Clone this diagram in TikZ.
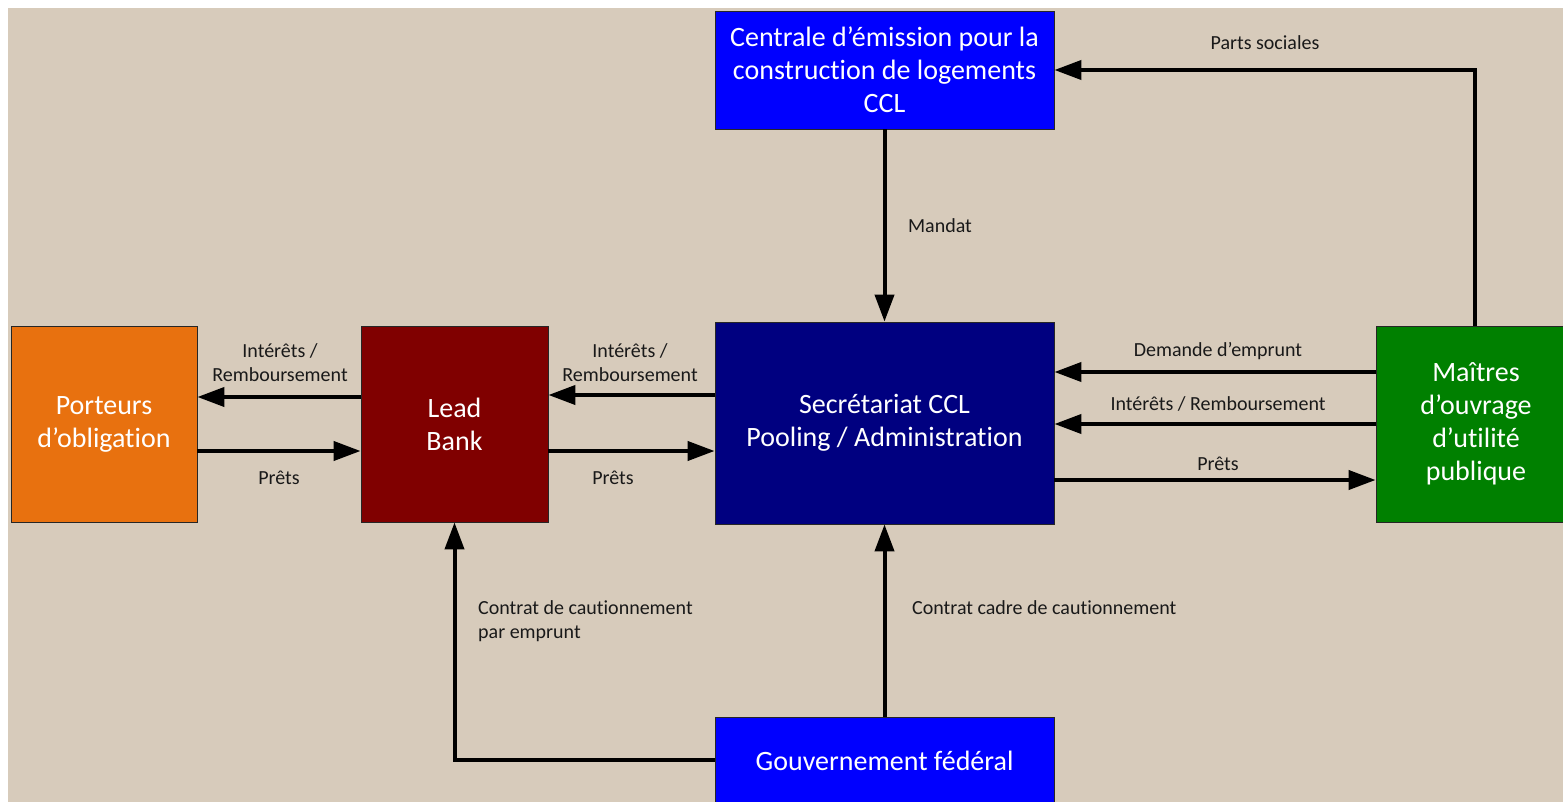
\documentclass[tikz,border=0pt]{standalone}
\usepackage{fontspec}
\setmainfont{Carlito}[Ligatures=NoCommon]
\usetikzlibrary{arrows.meta}
\definecolor{bg}{HTML}{D7CBBB}
\definecolor{orangebox}{HTML}{E8710F}
\definecolor{redbox}{HTML}{800000}
\definecolor{navybox}{HTML}{000080}
\definecolor{greenbox}{HTML}{008000}
\definecolor{bluebox}{HTML}{0000FF}
\tikzset{
  box/.style={draw=black!85, line width=0.8pt, text=white, align=center,
    font=\fontsize{28}{33}\selectfont, inner sep=0pt},
  arr/.style={line width=4pt, -{Triangle[length=27pt,width=19pt]}},
  lbl/.style={font=\fontsize{20}{24}\selectfont, text=black!90, inner sep=0pt, align=center},
}
\begin{document}
\begin{tikzpicture}[x=1pt,y=-1pt]
\useasboundingbox (0,0) rectangle (1563,802);
\fill[bg] (8,8) rectangle (1563,802);

\node[box, fill=bluebox, minimum width=339pt, minimum height=118pt] (centrale) at (884.5,70)
  {Centrale d’émission pour la\\construction de logements\\CCL};
\node[box, fill=orangebox, minimum width=186pt, minimum height=196pt] (porteurs) at (104,424)
  {Porteurs\\d’obligation};
\node[box, fill=redbox, minimum width=187pt, minimum height=196pt] (lead) at (454.5,424)
  {Lead\\Bank};
\node[box, fill=navybox, minimum width=339pt, minimum height=202pt] (secr) at (884.5,423)
  {Secrétariat CCL\\Pooling / Administration};
\node[box, fill=greenbox, minimum width=200pt, minimum height=196pt] (maitres) at (1476,424)
  {Maîtres\\d’ouvrage\\d’utilité\\publique};
\node[box, fill=bluebox, minimum width=339pt, minimum height=88pt] (gouv) at (884.5,761)
  {Gouvernement fédéral};

% Lead <-> Porteurs
\draw[arr] ([yshift=27pt]lead.west) coordinate (a1) -- (porteurs.east |- a1);
\draw[arr] ([yshift=-27pt]porteurs.east) coordinate (a2) -- (lead.west |- a2);
% Secr <-> Lead
\draw[arr] ([yshift=28pt]secr.west) coordinate (a3) -- (lead.east |- a3);
\draw[arr] ([yshift=-27pt]lead.east) coordinate (a4) -- (secr.west |- a4);
% Maitres <-> Secr
\draw[arr] ([yshift=52pt]maitres.west) coordinate (a5) -- (secr.east |- a5);
\draw[arr] ([yshift=0pt]maitres.west) coordinate (a6) -- (secr.east |- a6);
\draw[arr] ([yshift=-57pt]secr.east) coordinate (a7) -- (maitres.west |- a7);
% Maitres -> Centrale
\coordinate (c1) at (1475,70);
\draw[arr] (maitres.north -| c1) -- (c1) -- (centrale.east |- c1);
% Centrale -> Secr
\draw[arr] (centrale.south) -- (secr.north);
% Gouv -> Secr
\draw[arr] (gouv.north) -- (secr.south);
% Gouv -> Lead
\coordinate (c2) at (454.5,760);
\draw[arr] (gouv.west |- c2) -- (c2) -- (lead.south);

% labels
\node[lbl] (l1) at (280,363) {Intérêts /\\Remboursement};
\node[lbl] (l2) at (279,478) {Prêts};
\node[lbl] (l3) at (630,363) {Intérêts /\\Remboursement};
\node[lbl] (l4) at (613,478) {Prêts};
\node[lbl] (l5) at (1218,351) {Demande d’emprunt};
\node[lbl] (l6) at (1218,404) {Intérêts / Remboursement};
\node[lbl] (l7) at (1218,464) {Prêts};
\node[lbl] (l8) at (1265,43) {Parts sociales};
\node[lbl] (l9) at (940,226) {Mandat};
\node[lbl, anchor=west] (l10) at (912,608) {Contrat cadre de cautionnement};
\node[lbl, anchor=west, align=left] (l11) at (478,621) {Contrat de cautionnement\\par emprunt};
\end{tikzpicture}
\end{document}
